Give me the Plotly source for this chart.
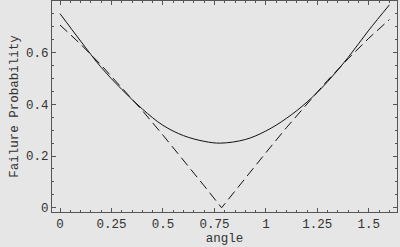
import plotly.graph_objects as go

# failure probability vs angle
angle = [0.0, 0.1, 0.2, 0.3, 0.4, 0.5, 0.6, 0.7, 0.78, 0.9, 1.0, 1.1, 1.2, 1.3, 1.4, 1.5, 1.6]
p_solid = [0.751, 0.645, 0.543, 0.458, 0.382, 0.319, 0.279, 0.257, 0.250, 0.264, 0.297,
           0.346, 0.409, 0.488, 0.582, 0.687, 0.785]

angle_d = [0.0, 0.1, 0.2, 0.3, 0.4, 0.5, 0.6, 0.7, 0.785, 0.9, 1.0, 1.1, 1.2, 1.3, 1.4, 1.5, 1.6]
p_dashed = [0.707, 0.633, 0.552, 0.466, 0.376, 0.281, 0.184, 0.085, 0.0, 0.115, 0.213,
            0.310, 0.403, 0.493, 0.577, 0.656, 0.728]

x_ticks = [0, 0.25, 0.5, 0.75, 1, 1.25, 1.5]
y_ticks = [0, 0.2, 0.4, 0.6]
y_ticktext = ["0", "0.2", "0.4", "0.6"]

BG = "#e6e6e6"
FRAME = "#555555"
TEXT = "#333333"
FONT = "Liberation Mono, Courier New, monospace"

fig = go.Figure()
fig.add_trace(go.Scatter(
    x=angle, y=p_solid, mode="lines",
    line=dict(color="#111111", width=1, shape="spline"),
    showlegend=False,
))
fig.add_trace(go.Scatter(
    x=angle_d, y=p_dashed, mode="lines",
    line=dict(color="#111111", width=1, dash="10px,5px"),
    showlegend=False,
))

axis_common = dict(
    showgrid=False, zeroline=False,
    showline=True, linecolor=FRAME, linewidth=1, mirror="ticks",
    ticks="inside", ticklen=4, tickcolor=FRAME, tickwidth=1,
    tickfont=dict(family=FONT, size=12.5, color=TEXT),
)

fig.update_layout(
    width=400, height=247,
    paper_bgcolor=BG, plot_bgcolor=BG,
    margin=dict(l=52, r=3, t=1, b=35),
    font=dict(family=FONT, size=12.5, color=TEXT),
    xaxis=dict(
        **axis_common,
        range=[-0.039, 1.637],
        tickvals=x_ticks,
        minor=dict(ticks="inside", dtick=0.05, tick0=0, ticklen=2, tickcolor=FRAME),
        title=dict(text="angle", font=dict(family=FONT, size=12.5, color=TEXT), standoff=2),
    ),
    yaxis=dict(
        **axis_common,
        range=[-0.0165, 0.8],
        tickvals=y_ticks, ticktext=y_ticktext,
        minor=dict(ticks="inside", dtick=0.05, tick0=0, ticklen=2, tickcolor=FRAME),
        title=dict(text="Failure Probability", font=dict(family=FONT, size=12.5, color=TEXT), standoff=4),
    ),
)

# page body has a default margin; drop it so the figure sits at the window corner
fig.write_html(
    "out.html",
    config={"displayModeBar": False},
    post_script="document.body.style.margin='0px';",
)
